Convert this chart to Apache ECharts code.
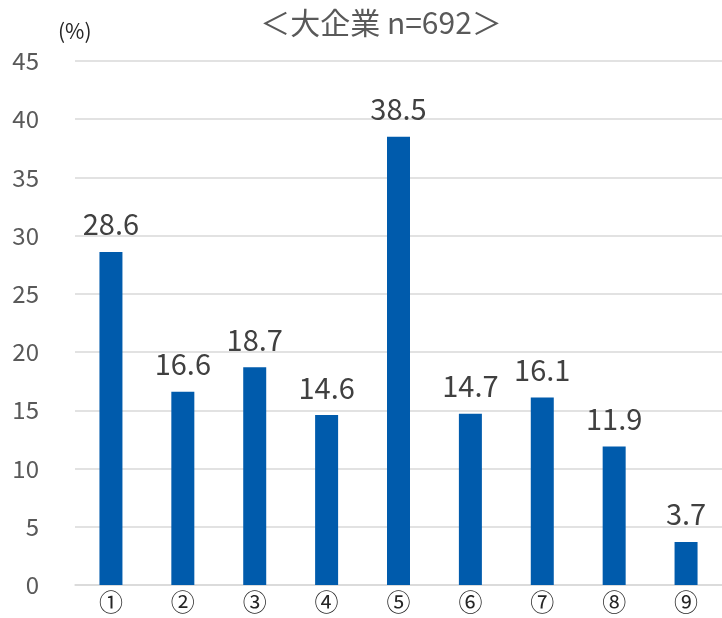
<!DOCTYPE html>
<html><head><meta charset="utf-8">
<script src="https://cdn.jsdelivr.net/npm/echarts@6/dist/echarts.min.js"></script>
<style>html,body{margin:0;padding:0;background:#fff}#c{width:722px;height:618px}</style>
</head><body><div id="c"></div>
<script>
var categories = ['①','②','③','④','⑤','⑥','⑦','⑧','⑨'];
var values = [28.6,16.6,18.7,14.6,38.5,14.7,16.1,11.9,3.7];
var yTicks = [0,5,10,15,20,25,30,35,40,45];
var titleText = '＜大企業 n=692＞';
var unitText = '(%)';
var FONT = '"Noto Sans CJK JP","Open Sans",sans-serif';
var chart = echarts.init(document.getElementById('c'), null, {renderer:'canvas'});
chart.setOption({
  animation:false,
  title:{text:titleText,left:376,top:3,textAlign:'center',textStyle:{fontFamily:FONT,fontSize:30,fontWeight:'normal',color:'#595959'}},
  graphic:[{type:'text',left:58,top:21,style:{text:unitText,fontFamily:FONT,fontSize:21,fill:'#262626'}}],
  grid:{left:75,right:0,top:61,bottom:33},
  xAxis:{type:'category',data:categories,axisTick:{show:false},
    axisLine:{lineStyle:{color:'#d9d9d9',width:1.5}},
    axisLabel:{fontFamily:FONT,fontSize:24,color:'#262626',margin:5}},
  yAxis:{type:'value',min:yTicks[0],max:yTicks[yTicks.length-1],interval:5,
    axisLine:{show:false},axisTick:{show:false},
    splitLine:{lineStyle:{color:'#d9d9d9',width:1.5}},
    axisLabel:{fontFamily:FONT,fontSize:24,color:'#595959',margin:36}},
  series:[{type:'bar',data:values,barWidth:23,
    itemStyle:{color:'#005BAC'},
    label:{show:true,position:'top',distance:13,fontFamily:FONT,fontSize:29,color:'#404040',formatter:function(p){return p.value.toFixed(1);}}}]
});
</script></body></html>
